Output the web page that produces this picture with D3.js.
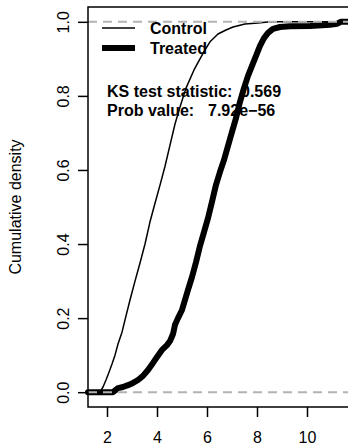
<!DOCTYPE html>
<html>
<head>
<meta charset="utf-8">
<script src="https://cdn.jsdelivr.net/npm/d3@7"></script>
<style>
  html, body { margin: 0; padding: 0; background: #ffffff; }
  svg { display: block; overflow: hidden; }
  text { font-family: "Liberation Sans", Arial, Helvetica, sans-serif; fill: #000; }
</style>
</head>
<body>
<svg id="chart" width="348" height="446"></svg>
<script>
// Empirical cumulative distributions of the two groups (x, F(x)) knots
const controlX = [1.72, 1.84, 1.96, 2.08, 2.20, 2.32, 2.44, 2.60, 2.76, 2.92, 3.12, 3.32, 3.52, 3.72, 3.92, 4.12, 4.32, 4.52, 4.72, 4.92, 5.16, 5.48, 5.72, 5.92, 6.12, 6.44, 6.76, 7.04, 7.52, 8.04, 8.52];
const controlY = [0.000, 0.014, 0.033, 0.054, 0.076, 0.100, 0.130, 0.162, 0.206, 0.249, 0.300, 0.349, 0.400, 0.460, 0.510, 0.559, 0.610, 0.667, 0.724, 0.770, 0.821, 0.870, 0.900, 0.924, 0.946, 0.967, 0.978, 0.986, 0.994, 0.997, 1.000];

const treatedX = [2.24, 2.44, 2.64, 2.84, 3.04, 3.24, 3.44, 3.64, 3.84, 4.00, 4.20, 4.40, 4.52, 4.64, 4.72, 4.84, 5.00, 5.12, 5.24, 5.40, 5.56, 5.72, 5.88, 6.04, 6.20, 6.36, 6.52, 6.68, 6.84, 7.00, 7.16, 7.32, 7.48, 7.64, 7.80, 7.96, 8.12, 8.28, 8.44, 8.64, 8.92, 9.32, 10.12, 10.92, 11.20, 11.36];
const treatedY = [0.000, 0.011, 0.014, 0.019, 0.025, 0.033, 0.044, 0.060, 0.079, 0.095, 0.114, 0.127, 0.138, 0.157, 0.182, 0.200, 0.222, 0.249, 0.276, 0.311, 0.351, 0.395, 0.432, 0.470, 0.514, 0.560, 0.595, 0.627, 0.665, 0.703, 0.740, 0.784, 0.821, 0.854, 0.881, 0.908, 0.935, 0.956, 0.970, 0.981, 0.986, 0.988, 0.989, 0.992, 0.995, 1.000];

const xTicks = [2, 4, 6, 8, 10];
const yTicks = [0.0, 0.2, 0.4, 0.6, 0.8, 1.0];
const groupNames = ["Control", "Treated"];
const statLabels = ["KS test statistic:", "Prob value:"];
const statValues = ["0.569", "7.92e\u221256"];
const yTitle = "Cumulative density";

// Plot region (right side runs past the window edge)
const svg = d3.select("#chart");
const plotLeft = 88, plotTop = 7, plotRight = 352, plotBottom = 407;
const xDomain = [1.24, 11.8];

const x = d3.scaleLinear().domain(xDomain).range([plotLeft, plotRight]);
const y = d3.scaleLinear().domain([-0.04, 1.04]).range([plotBottom, plotTop]);

// Each curve is extended flat at 0 on the left and at 1 on the right
function curvePoints(xs, ys) {
  const pts = [[xDomain[0], 0]];
  xs.forEach((v, i) => pts.push([v, ys[i]]));
  pts.push([xDomain[1], 1]);
  return pts;
}

const line = d3.line().x(d => x(d[0])).y(d => y(d[1]));

const plot = svg.append("g");

// Statistics text: label, then the value a couple of spaces after it
const stats = plot.append("g").attr("font-weight", "bold").attr("font-size", 16);
const valueX = [241, 208];
statLabels.forEach((lab, i) => {
  const by = 97 + i * 19;
  stats.append("text").attr("x", 107).attr("y", by).text(lab);
  stats.append("text").attr("x", valueX[i]).attr("y", by).text(statValues[i]);
});

// Curves
plot.append("path")
  .datum(curvePoints(controlX, controlY))
  .attr("d", line)
  .attr("fill", "none")
  .attr("stroke", "#000")
  .attr("stroke-width", 1.5)
  .attr("stroke-linejoin", "round");

plot.append("path")
  .datum(curvePoints(treatedX, treatedY))
  .attr("d", line)
  .attr("fill", "none")
  .attr("stroke", "#000")
  .attr("stroke-width", 6)
  .attr("stroke-linejoin", "round")
  .attr("stroke-linecap", "round");

// Reference lines at 0 and 1
plot.selectAll("line.ref")
  .data([0, 1])
  .enter().append("line")
  .attr("class", "ref")
  .attr("x1", plotLeft).attr("x2", plotRight)
  .attr("y1", d => y(d)).attr("y2", d => y(d))
  .attr("stroke", "#b3b3b3")
  .attr("stroke-width", 2)
  .attr("stroke-dasharray", "9,6");

// Legend
const legend = plot.append("g");
groupNames.forEach((name, i) => {
  const ly = 28 + i * 20;
  legend.append("line")
    .attr("x1", 102).attr("x2", 135)
    .attr("y1", ly).attr("y2", ly)
    .attr("stroke", "#000")
    .attr("stroke-width", i === 0 ? 1.5 : 6);
  legend.append("text")
    .attr("x", 150).attr("y", ly + 6)
    .attr("font-size", 16)
    .attr("font-weight", "bold")
    .text(name);
});

// Box
svg.append("rect")
  .attr("x", plotLeft).attr("y", plotTop)
  .attr("width", plotRight - plotLeft).attr("height", plotBottom - plotTop)
  .attr("fill", "none")
  .attr("stroke", "#000")
  .attr("stroke-width", 1.5);

// X axis
const xAxis = d3.axisBottom(x).tickValues(xTicks).tickSize(10)
  .tickFormat(d3.format("d"));
const gx = svg.append("g").attr("transform", `translate(0,${plotBottom})`).call(xAxis);
gx.select(".domain").remove();
gx.selectAll(".tick line").attr("stroke", "#000").attr("stroke-width", 1.5);
gx.selectAll(".tick text")
  .attr("font-size", 16)
  .attr("font-family", "Liberation Sans, Arial, sans-serif")
  .attr("dy", null)
  .attr("y", 35.5);

// Y axis (rotated labels)
const yAxis = d3.axisLeft(y).tickValues(yTicks).tickSize(10)
  .tickFormat(d3.format(".1f"));
const gy = svg.append("g").attr("transform", `translate(${plotLeft},0)`).call(yAxis);
gy.select(".domain").remove();
gy.selectAll(".tick line").attr("stroke", "#000").attr("stroke-width", 1.5);
gy.selectAll(".tick text")
  .attr("font-size", 16)
  .attr("font-family", "Liberation Sans, Arial, sans-serif")
  .attr("x", null).attr("dy", null)
  .attr("text-anchor", "middle")
  .attr("transform", "translate(-19,0) rotate(-90)");

// Y axis title
svg.append("text")
  .attr("transform", `translate(21,${(plotTop + plotBottom) / 2}) rotate(-90)`)
  .attr("text-anchor", "middle")
  .attr("font-size", 16)
  .text(yTitle);
</script>
</body>
</html>
